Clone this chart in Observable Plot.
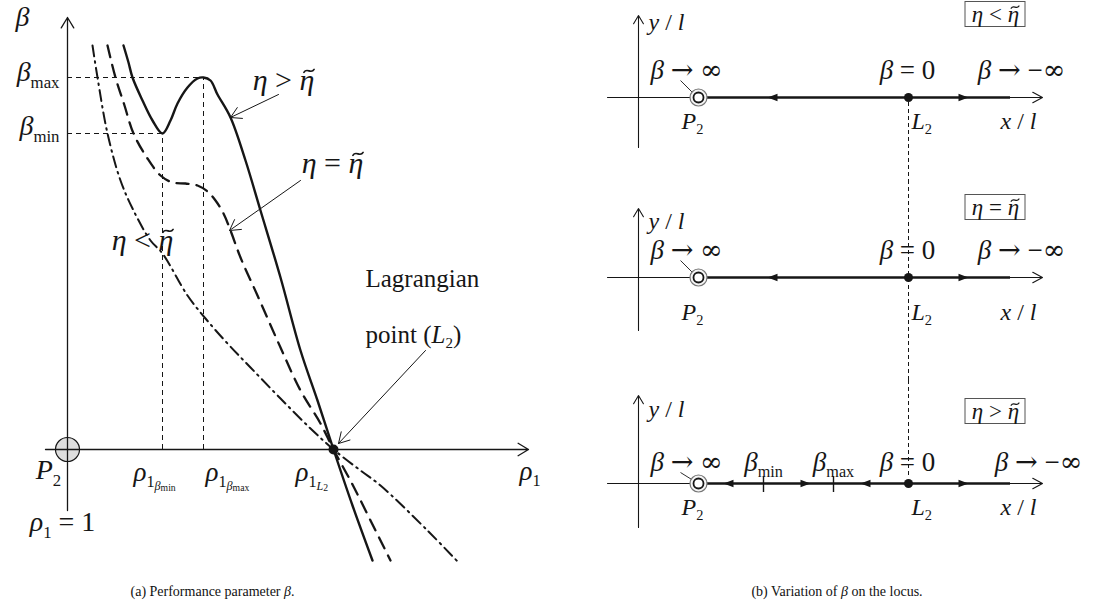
<!DOCTYPE html>
<html>
<head>
<meta charset="utf-8">
<script src="https://cdn.jsdelivr.net/npm/d3@7"></script>
<script src="https://cdn.jsdelivr.net/npm/@observablehq/plot@0.6"></script>
<style>
  html, body { margin: 0; padding: 0; background: #fff; }
  #fig { position: relative; width: 1094px; height: 612px; overflow: hidden;
         font-family: "Liberation Serif", serif; color: #111; }
  #left { position: absolute; left: 0; top: 0; }
  #right { position: absolute; left: 547px; top: 0; width: 547px; }
  #right svg { display: block; }
  svg text { white-space: pre; }
  .cap { position: absolute; top: 582px; font-size: 14px; line-height: 20px; text-align: center; }
</style>
</head>
<body>
<div id="fig">
  <div id="left"></div>
  <div id="right"></div>
  <div class="cap" style="left:0;width:425px">(a) Performance parameter <i>β</i>.</div>
  <div class="cap" style="left:580px;width:514px">(b) Variation of <i>β</i> on the locus.</div>
</div>
<script>
// ---------- (a) performance parameter β versus ρ1 ----------
// η > η̃ (solid): local minimum then local maximum before falling through L2
const rho1Above = [1.56, 1.61, 1.65, 1.75, 1.85, 1.95, 2.03, 2.10, 2.20, 2.30, 2.36, 2.43, 2.50, 2.63, 2.78, 2.93, 3.13, 3.33, 3.50, 3.66, 3.85, 4.05];
const betaAbove = [4.04, 3.87, 3.72, 3.49, 3.29, 3.16, 3.29, 3.46, 3.62, 3.71, 3.72, 3.69, 3.55, 3.32, 2.89, 2.39, 1.72, 0.99, 0.49, 0.00, -0.56, -1.11];
// η = η̃ (dashed): flat inflection
const rho1Equal = [1.40, 1.48, 1.57, 1.66, 1.80, 1.93, 2.05, 2.18, 2.30, 2.40, 2.48, 2.56, 2.63, 2.73, 2.90, 3.13, 3.33, 3.53, 3.66, 3.85, 4.03, 4.23];
const betaEqual = [4.04, 3.72, 3.44, 3.16, 2.91, 2.74, 2.67, 2.66, 2.64, 2.58, 2.49, 2.36, 2.19, 1.92, 1.54, 1.02, 0.59, 0.26, 0.00, -0.35, -0.71, -1.11];
// η < η̃ (dash-dot): monotone decrease
const rho1Below = [1.25, 1.30, 1.40, 1.53, 1.66, 1.83, 1.95, 2.20, 2.38, 2.60, 2.83, 3.13, 3.43, 3.66, 3.93, 4.13, 4.60, 4.91];
const betaBelow = [4.04, 3.72, 3.16, 2.69, 2.39, 2.09, 1.96, 1.54, 1.31, 1.06, 0.82, 0.51, 0.21, 0.00, -0.21, -0.36, -0.81, -1.13];

// characteristic points on the ρ1 axis
const rho1P2 = 1, rho1L2 = 3.66, rho1BetaMin = 1.95, rho1BetaMax = 2.36;
const betaMin = 3.16, betaMax = 3.72;

// ---------- (b) locus on the x/l axis ----------
const cases = ["η < η\u0303", "η = η\u0303", "η > η\u0303"];
const xP2 = 0.60, xL2 = 2.70, xLocusEnd = 3.72;
const flowLeft  = [[1.29], [1.29], [0.85, 2.22]];   // arrow tips pointing toward P2
const flowRight = [[3.30], [3.30], [1.72, 3.30]];   // arrow tips pointing away from P2
const extremaX = [[], [], [1.25, 1.95]];
const extremaText = [[], [], ["β_{min}", "β_{max}"]];
const limitText = ["β → ∞", "β = 0", "β → −∞"];

// ---------- helpers ----------
const pts = (xs, ys) => xs.map((x, i) => ({x, y: ys[i]}));
const ink = "#161616";
const label = (s, x, y, o = {}) => Plot.text([s], {x, y, fill: ink, fontSize: 26, ...o});
const arrow = (x1, y1, x2, y2, o = {}) =>
  Plot.arrow([{x1, y1, x2, y2}], {x1: "x1", y1: "y1", x2: "x2", y2: "y2", stroke: ink, bend: 0, ...o});
const guide = {stroke: ink, strokeWidth: 1, strokeDasharray: "5,4"};

// Lays out "_x" / "_{...}" subscripts as nested tspans; single letters and Greek in italics;
// a combining tilde is drawn as a small stroked wave above its letter
const SCALE = [1, 0.6, 0.45, 0.36];
const DROP = [0, 0.22, 0.31, 0.37];
const SYMBOLS = /[→∞]/;
function parseMath(s) {
  const out = [];
  let i = 0;
  (function run(level, inBrace) {
    while (i < s.length) {
      const c = s[i];
      if (c === "}" && inBrace) { i++; return; }
      if (c === "_") {
        i++;
        if (s[i] === "{") { i++; run(level + 1, true); }
        else { out.push({c: s[i], level: level + 1}); i++; }
        continue;
      }
      out.push({c, level}); i++;
    }
  })(0, false);
  const latin = /[A-Za-z]/;
  for (let k = 0; k < out.length; k++) {
    const ch = out[k].c;
    out[k].sym = SYMBOLS.test(ch);
    if (/[\u0370-\u03ff]/.test(ch)) out[k].it = true;
    else if (latin.test(ch)) {
      let a = k, b = k;
      while (a > 0 && latin.test(out[a - 1].c) && out[a - 1].level === out[k].level) a--;
      while (b < out.length - 1 && latin.test(out[b + 1].c) && out[b + 1].level === out[k].level) b++;
      out[k].it = b === a;
    } else if (/[\u0300-\u036f]/.test(ch) && k > 0) out[k].it = out[k - 1].it;
    else out[k].it = false;
  }
  const groups = [];
  for (const o of out) {
    const g = groups[groups.length - 1];
    if (g && g.level === o.level && g.it === o.it && g.sym === o.sym) g.t += o.c;
    else groups.push({t: o.c, level: o.level, it: o.it, sym: o.sym});
  }
  return groups;
}
function typeset(root) {
  const NS = "http://www.w3.org/2000/svg";
  root.querySelectorAll("text").forEach((el) => {
    if (el.querySelector("tspan")) return;
    const base = parseFloat(getComputedStyle(el).fontSize);
    const groups = parseMath(el.textContent);
    el.textContent = "";
    let cur = 0, count = 0;
    const tildes = [];
    for (const g of groups) {
      const size = SCALE[g.level] * base;
      const off = DROP[g.level] * base;
      const parts = g.t.split("\u0303");
      parts.forEach((part, j) => {
        if (!part.length) return;
        const ts = document.createElementNS(NS, "tspan");
        ts.setAttribute("font-size", size.toFixed(2));
        ts.setAttribute("dy", (off - cur).toFixed(2));
        cur = off;
        ts.setAttribute("font-style", g.it ? "italic" : "normal");
        if (g.sym) ts.setAttribute("font-family", "DejaVu Serif");
        ts.textContent = part;
        el.appendChild(ts);
        count += part.length;
        if (j < parts.length - 1) tildes.push({idx: count - 1, size});
      });
    }
    for (const t of tildes) {
      const a0 = el.getStartPositionOfChar(t.idx), a1 = el.getEndPositionOfChar(t.idx);
      const s = t.size, w = 0.34 * s, h = 0.05 * s;
      const cx = (a0.x + a1.x) / 2 + 0.07 * s, cy = a0.y - 0.64 * s;
      const x0 = cx - w / 2;
      const p = document.createElementNS(NS, "path");
      p.setAttribute("d", `M${x0},${cy + h}C${x0 + 0.3 * w},${cy - 2.6 * h} ${x0 + 0.7 * w},${cy + 2.6 * h} ${x0 + w},${cy - h}`);
      p.setAttribute("fill", "none");
      p.setAttribute("stroke", ink);
      p.setAttribute("stroke-width", (0.055 * s).toFixed(2));
      p.setAttribute("stroke-linecap", "round");
      if (el.hasAttribute("transform")) p.setAttribute("transform", el.getAttribute("transform"));
      el.parentNode.insertBefore(p, el.nextSibling);
    }
  });
}

const plotStyle = {fontFamily: "Liberation Serif", background: "transparent", overflow: "visible", color: ink};

// ---------- panel (a) ----------
const left = Plot.plot({
  width: 547, height: 575,
  marginLeft: 67, marginRight: 0, marginTop: 0, marginBottom: 0,
  x: {domain: [1, 5.8], axis: null},
  y: {domain: [-1.26, 4.49], axis: null},
  style: plotStyle,
  marks: [
    Plot.ruleY([betaMax], {x1: rho1P2, x2: rho1BetaMax, ...guide}),
    Plot.ruleY([betaMin], {x1: rho1P2, x2: rho1BetaMin, ...guide}),
    Plot.ruleX([rho1BetaMin], {y1: 0, y2: betaMin, ...guide}),
    Plot.ruleX([rho1BetaMax], {y1: 0, y2: betaMax, ...guide}),
    Plot.dot([{x: rho1P2, y: 0}], {x: "x", y: "y", r: 12, fill: "#dedede", stroke: ink, strokeWidth: 1.2}),
    arrow(0.78, 0, 5.61, 0, {strokeWidth: 1.3, headLength: 14, headAngle: 62}),
    arrow(rho1P2, -0.61, rho1P2, 4.32, {strokeWidth: 1.3, headLength: 14, headAngle: 62}),
    Plot.line(pts(rho1Below, betaBelow), {x: "x", y: "y", curve: "catmull-rom", stroke: ink, strokeWidth: 2, strokeDasharray: "11,5,1.6,5"}),
    Plot.line(pts(rho1Equal, betaEqual), {x: "x", y: "y", curve: "catmull-rom", stroke: ink, strokeWidth: 2.3, strokeDasharray: "12,8"}),
    Plot.line(pts(rho1Above, betaAbove), {x: "x", y: "y", curve: "catmull-rom", stroke: ink, strokeWidth: 2.4}),
    Plot.dot([{x: rho1L2, y: 0}], {x: "x", y: "y", r: 5, fill: ink}),
    arrow(3.11, 3.55, 2.63, 3.32, {strokeWidth: 1, headLength: 18, headAngle: 60}),
    arrow(3.33, 2.69, 2.62, 2.19, {strokeWidth: 1, headLength: 18, headAngle: 60}),
    arrow(4.58, 0.99, 3.71, 0.06, {strokeWidth: 1, headLength: 18, headAngle: 60}),
    label("β", 0.55, 4.32, {fontSize: 28}),
    label("β_{max}", 0.92, 3.77, {textAnchor: "end", fontSize: 28}),
    label("β_{min}", 0.92, 3.23, {textAnchor: "end", fontSize: 28}),
    label("P_2", 0.81, -0.21, {fontSize: 28}),
    label("ρ_1 = 1", 0.95, -0.73, {fontSize: 28}),
    label("ρ_{1_{β_{min}}}", 1.66, -0.23, {textAnchor: "start", fontSize: 27}),
    label("ρ_{1_{β_{max}}}", 2.38, -0.23, {textAnchor: "start", fontSize: 27}),
    label("ρ_{1_{L_2}}", 3.28, -0.23, {textAnchor: "start", fontSize: 27}),
    label("ρ_1", 5.52, -0.22, {textAnchor: "start", fontSize: 27}),
    label(cases[2], 3.16, 3.69, {fontSize: 30}),
    label(cases[1], 3.65, 2.86, {fontSize: 30}),
    label(cases[0], 1.75, 2.09, {fontSize: 30}),
    label("Lagrangian", 3.98, 1.71, {textAnchor: "start", fontSize: 25}),
    label("point (L_2)", 3.98, 1.15, {textAnchor: "start", fontSize: 25})
  ]
});
document.getElementById("left").appendChild(left);
typeset(left);

// ---------- panel (b) ----------
const panelLayout = [
  {h: 180, axis: 97,  yTop: 0.82, yBottom: -0.50, box: 0.83, lim: 0.27, yl: 0.75, low: -0.24, dash: [-0.05, -0.83], limX: 3.83},
  {h: 200, axis: 97,  yTop: 0.69, yBottom: -0.53, box: 0.70, lim: 0.27, yl: 0.56, low: -0.35, dash: [0.97, -1.03], limX: 3.83},
  {h: 195, axis: 103, yTop: 0.88, yBottom: -0.44, box: 0.72, lim: 0.21, yl: 0.74, low: -0.24, dash: [1.03, 0.05], limX: 4.00}
];
// filled triangles with the tip at the anchor point
const triLeft = {draw(c) { c.moveTo(0, 0); c.lineTo(10, -3.8); c.lineTo(10, 3.8); c.closePath(); }};
const triRight = {draw(c) { c.moveTo(0, 0); c.lineTo(-10, -3.8); c.lineTo(-10, 3.8); c.closePath(); }};

cases.forEach((name, k) => {
  const p = panelLayout[k];
  const svg = Plot.plot({
    width: 547, height: p.h,
    marginLeft: 91, marginRight: 0, marginTop: 0, marginBottom: 0,
    x: {domain: [0, 4.56], axis: null},
    y: {domain: [-(p.h - p.axis) / 100, p.axis / 100], axis: null},
    style: plotStyle,
    marks: [
      arrow(-0.31, 0, 4.04, 0, {strokeWidth: 1.1, headLength: 15, headAngle: 56}),
      arrow(0, p.yBottom, 0, p.yTop, {strokeWidth: 1.1, headLength: 13, headAngle: 62}),
      Plot.ruleY([0], {x1: xP2, x2: xLocusEnd, stroke: ink, strokeWidth: 2.5}),
      Plot.ruleX(extremaX[k], {y1: -0.09, y2: 0.07, stroke: ink, strokeWidth: 1.4}),
      Plot.dot(flowLeft[k], {x: (d) => d, y: 0, symbol: triLeft, fill: ink, stroke: "none"}),
      Plot.dot(flowRight[k], {x: (d) => d, y: 0, symbol: triRight, fill: ink, stroke: "none"}),
      Plot.link([0], {x1: xP2 - 0.18, y1: p.lim - 0.10, x2: xP2 - 0.02, y2: 0.01, stroke: ink, strokeWidth: 0.9}),
      Plot.dot([xP2], {x: (d) => d, y: 0, r: 8.5, fill: "#f4f4f4", stroke: "#777", strokeWidth: 1.2}),
      Plot.dot([xP2], {x: (d) => d, y: 0, r: 5, fill: "#fff", stroke: ink, strokeWidth: 1.8}),
      Plot.dot([xL2], {x: (d) => d, y: 0, r: 4.5, fill: ink}),
      Plot.text(extremaText[k], {x: extremaX[k], y: p.lim, fill: ink, fontSize: 27}),
      label(limitText[0], 0.48, p.lim, {fontSize: 27}),
      label(limitText[1], 2.69, p.lim, {fontSize: 27}),
      label(limitText[2], p.limX, p.lim, {fontSize: 27}),
      label("P_2", 0.54, p.low, {fontSize: 24}),
      label("L_2", 2.73, p.low, {fontSize: 24, textAnchor: "start"}),
      label("x / l", 3.80, p.low, {fontSize: 24}),
      label("y / l", 0.10, p.yl, {fontSize: 24, textAnchor: "start"}),
      Plot.rect([0], {x1: 3.27, x2: 3.87, y1: p.box - 0.125, y2: p.box + 0.125, fill: "none", stroke: "#555", strokeWidth: 1}),
      label(name, 3.57, p.box, {fontSize: 23}),
      Plot.ruleX([xL2], {y1: p.dash[0], y2: p.dash[1], stroke: ink, strokeWidth: 1, strokeDasharray: "4,3"})
    ]
  });
  document.getElementById("right").appendChild(svg);
  typeset(svg);
});
</script>
</body>
</html>
